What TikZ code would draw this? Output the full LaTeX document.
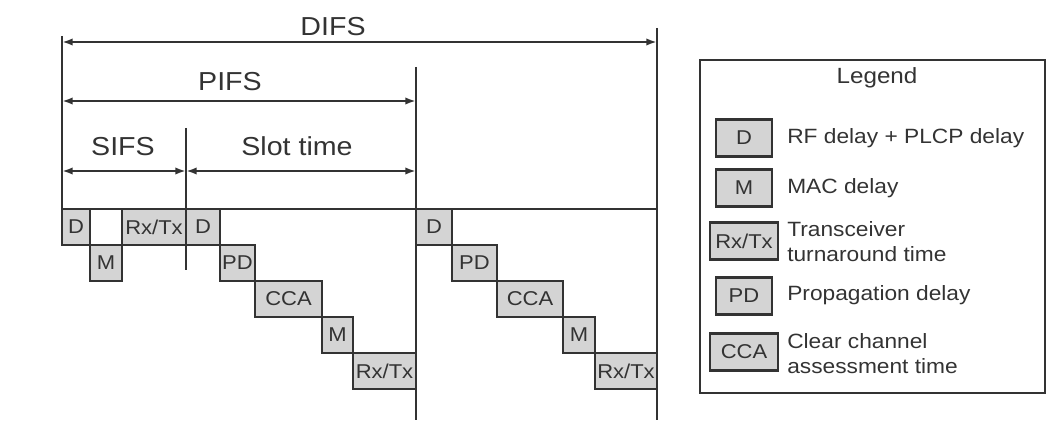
\documentclass[tikz,border=0pt]{standalone}
\usepackage{fontspec}
\setmainfont{Liberation Sans}[FakeStretch=1.1]
\usetikzlibrary{arrows.meta, positioning}
\definecolor{inkgray}{gray}{0.2}
\definecolor{cellgray}{gray}{0.83}

\begin{document}
\begin{tikzpicture}[
  x=0.75pt, y=-0.75pt,
  guide/.style={draw=inkgray, line width=1.9pt},
  span/.style={draw=inkgray, line width=1.7pt,
               {Latex[length=8pt,width=5.5pt]}-{Latex[length=8pt,width=5.5pt]}},
  spanlabel/.style={font=\fontsize{19.5}{22}\selectfont, text=inkgray, inner sep=0pt},
  cell/.style={rectangle, draw=inkgray, line width=1.6pt, fill=cellgray,
               inner sep=0.5pt, outer sep=0pt, minimum height=27pt,
               font=\fontsize{15}{17}\selectfont, text=inkgray},
  keytext/.style={anchor=west, align=left, inner sep=0pt,
                  font=\fontsize{15.5}{18.75}\selectfont, text=inkgray},
]
\useasboundingbox (0,0) rectangle (1049,423);

% ---- first sequence (SIFS + slot) ----
\node[cell, minimum width=21pt, anchor=north west] (d1) at (62,209) {D};
\node[cell, minimum width=24pt, fill=white, right=0pt of d1] (gap1) {};
\node[cell, minimum width=48pt, right=0pt of gap1] (rt1) {Rx/Tx};
\node[cell, minimum width=24pt, below=0pt of gap1] (m1) {M};
\node[cell, minimum width=25.5pt, right=0pt of rt1] (d2) {D};
\node[cell, minimum width=26.25pt, below right=0pt and 0pt of d2] (pd1) {PD};
\node[cell, minimum width=50.25pt, below right=0pt and 0pt of pd1] (cca1) {CCA};
\node[cell, minimum width=23.25pt, below right=0pt and 0pt of cca1] (m2) {M};
\node[cell, minimum width=47.25pt, below right=0pt and 0pt of m2] (rt2) {Rx/Tx};

% ---- second sequence ----
\node[cell, minimum width=27pt, anchor=north west] (d3) at (416,209) {D};
\node[cell, minimum width=33.75pt, below right=0pt and 0pt of d3] (pd2) {PD};
\node[cell, minimum width=49.5pt, below right=0pt and 0pt of pd2] (cca2) {CCA};
\node[cell, minimum width=24pt, below right=0pt and 0pt of cca2] (m3) {M};
\node[cell, minimum width=46.5pt, below right=0pt and 0pt of m3] (rt3) {Rx/Tx};

% ---- guide lines ----
\coordinate (start top) at (62,36);
\coordinate (sifs top)  at (186,128);
\coordinate (sifs bot)  at (186,270);
\coordinate (pifs top)  at (416,67);
\coordinate (pifs bot)  at (416,420);
\coordinate (difs top)  at (657,28);
\coordinate (difs bot)  at (657,420);
\coordinate (busy end)  at (657,209);

\draw[guide] (start top) -- (d1.north west);
\draw[guide] (d1.north west) -- (busy end);
\draw[guide] (sifs top) -- (sifs bot);
\draw[guide] (pifs top) -- (pifs bot);
\draw[guide] (difs top) -- (difs bot);

% ---- spans ----
\draw[span] (start top |- 0,42)  -- (difs top |- 0,42);
\draw[span] (start top |- 0,101) -- (pifs top |- 0,101);
\draw[span] (start top |- 0,171) -- (sifs top |- 0,171);
\draw[span] (sifs top |- 0,171)  -- (pifs top |- 0,171);

\node[spanlabel] (difs label) at (333,27)  {DIFS};
\node[spanlabel] (pifs label) at (230,82)  {PIFS};
\node[spanlabel] (sifs label) at (123,147) {SIFS};
\node[spanlabel] (slot label) at (297,146) {Slot time};

% ---- legend ----
\draw[draw=inkgray, line width=1.7pt] (700,60) rectangle (1045,393);
\node[font=\fontsize{16.5}{19}\selectfont, text=inkgray] (legend title) at (877,78) {Legend};

\node[cell, minimum width=42pt, minimum height=27.75pt] (key d)   at (744,138) {D};
\node[cell, minimum width=42pt, minimum height=27.75pt] (key m)   at (744,188) {M};
\node[cell, minimum width=51pt, minimum height=27.75pt] (key rt)  at (744,241) {Rx/Tx};
\node[cell, minimum width=42pt, minimum height=27.75pt] (key pd)  at (744,296) {PD};
\node[cell, minimum width=51pt, minimum height=27.75pt] (key cca) at (744,352) {CCA};

\node[keytext] (text d)   at (787,138) {RF delay + PLCP delay};
\node[keytext] (text m)   at (787,188) {MAC delay};
\node[keytext] (text rt)  at (787,242) {Transceiver\\turnaround time};
\node[keytext] (text pd)  at (787,295) {Propagation delay};
\node[keytext] (text cca) at (787,354) {Clear channel\\assessment time};

\end{tikzpicture}
\end{document}
